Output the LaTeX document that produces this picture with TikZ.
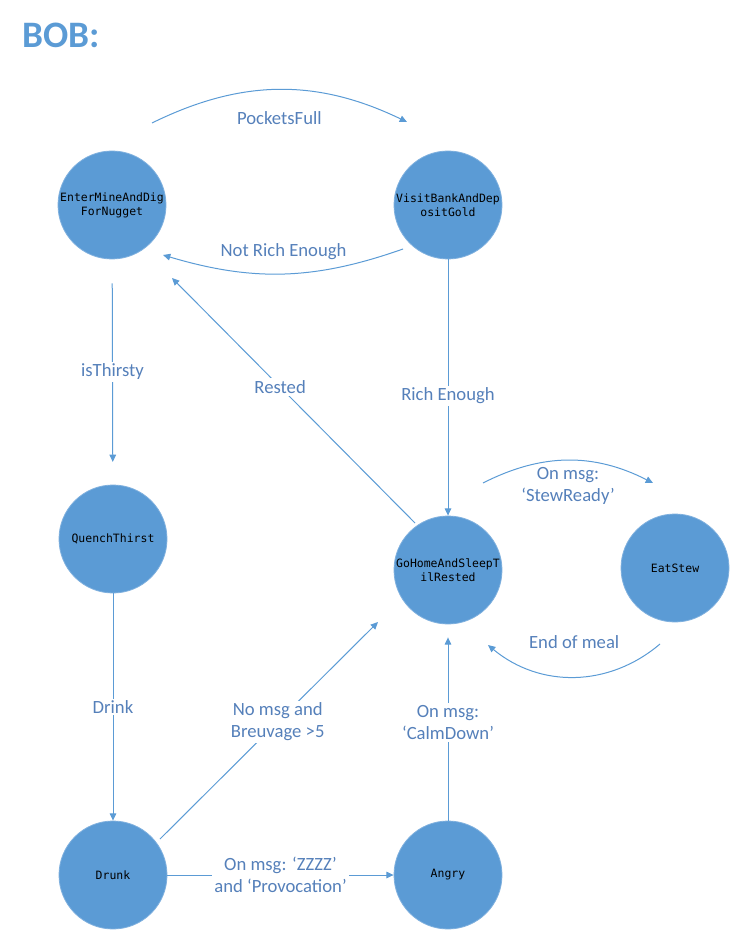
\documentclass[tikz,border=0pt]{standalone}
\usepackage{fontspec}
\setmainfont{Carlito}
\newfontfamily\statefont{DejaVu Sans Mono}
\usetikzlibrary{arrows.meta}
\definecolor{stfill}{HTML}{5B9BD5}
\definecolor{stedge}{HTML}{7FB0DE}
\definecolor{edgecol}{HTML}{5B9BD5}
\definecolor{labcol}{HTML}{5580BA}
\definecolor{titlecol}{HTML}{5B9BD5}
\begin{document}
\begin{tikzpicture}[x=0.75pt,y=-0.75pt,
 state/.style={circle, fill=stfill, draw=stedge, line width=0.6pt, minimum size=81pt, inner sep=0pt, align=center, font=\statefont\fontsize{8.6}{10.5}\selectfont, text=black},
 conn/.style={draw=edgecol, line width=0.75pt, -{Triangle[length=5.5pt,width=5pt]}},
 lab/.style={font=\fontsize{14}{16.5}\selectfont, text=labcol, fill=white, inner sep=1.5pt, align=center}]
\useasboundingbox (0,0) rectangle (735,937);
\node[anchor=base west, text=titlecol, font=\bfseries\fontsize{28}{30}\selectfont, inner sep=0pt] (title) at (22,48) {BOB:};
\node[state] (enter) at (112,205) {EnterMineAndDig\\ForNugget};
\node[state] (visit) at (448,205) {VisitBankAndDep\\ositGold};
\node[state] (quench) at (113,539) {QuenchThirst};
\node[state] (gohome) at (448,570) {GoHomeAndSleepT\\ilRested};
\node[state] (eat) at (675,568) {EatStew};
\node[state] (drunk) at (113,875) {Drunk};
\node[state] (angry) at (448,875) {Angry};

\draw[conn] ([shift={(40,-82)}]enter.center) to[bend left=26] node[lab, fill=none, yshift=-21.5pt] {PocketsFull} ([shift={(-41,-83)}]visit.center);
\draw[conn] ([shift={(-45,44)}]visit.center) to[bend left=18] node[lab, fill=none, yshift=16.5pt] {Not Rich Enough} ([shift={(51,50)}]enter.center);
\draw[conn, shorten <=18pt, shorten >=17pt] (enter) -- node[lab] {isThirsty} (quench);
\draw[conn] ([shift={(-33,-47)}]gohome.center) -- node[lab, pos=0.555] {Rested} ([shift={(60,73)}]enter.center);
\draw[conn] (visit) -- node[lab, pos=0.533] {Rich Enough} (gohome);
\draw[conn] ([shift={(35,-87)}]gohome.center) to[bend left=27] node[lab, fill=none, yshift=-19.5pt] {On msg:\\‘StewReady’} ([shift={(-22,-85)}]eat.center);
\draw[conn] ([shift={(-15,76)}]eat.center) to[bend left=40] node[lab, fill=none, yshift=26pt] {End of meal} ([shift={(40,75)}]gohome.center);
\draw[conn] (quench) -- node[lab] {Drink} (drunk);
\draw[conn] ([shift={(47,-36)}]drunk.center) -- node[lab, pos=0.54] {No msg and\\Breuvage >5} ([shift={(-70,52)}]gohome.center);
\draw[conn, shorten >=9.75pt] (angry) -- node[lab] {On msg:\\‘CalmDown’} (gohome);
\draw[conn] (drunk) -- node[lab] {On msg: ‘ZZZZ’\\and ‘Provocation’} (angry);
\end{tikzpicture}
\end{document}
